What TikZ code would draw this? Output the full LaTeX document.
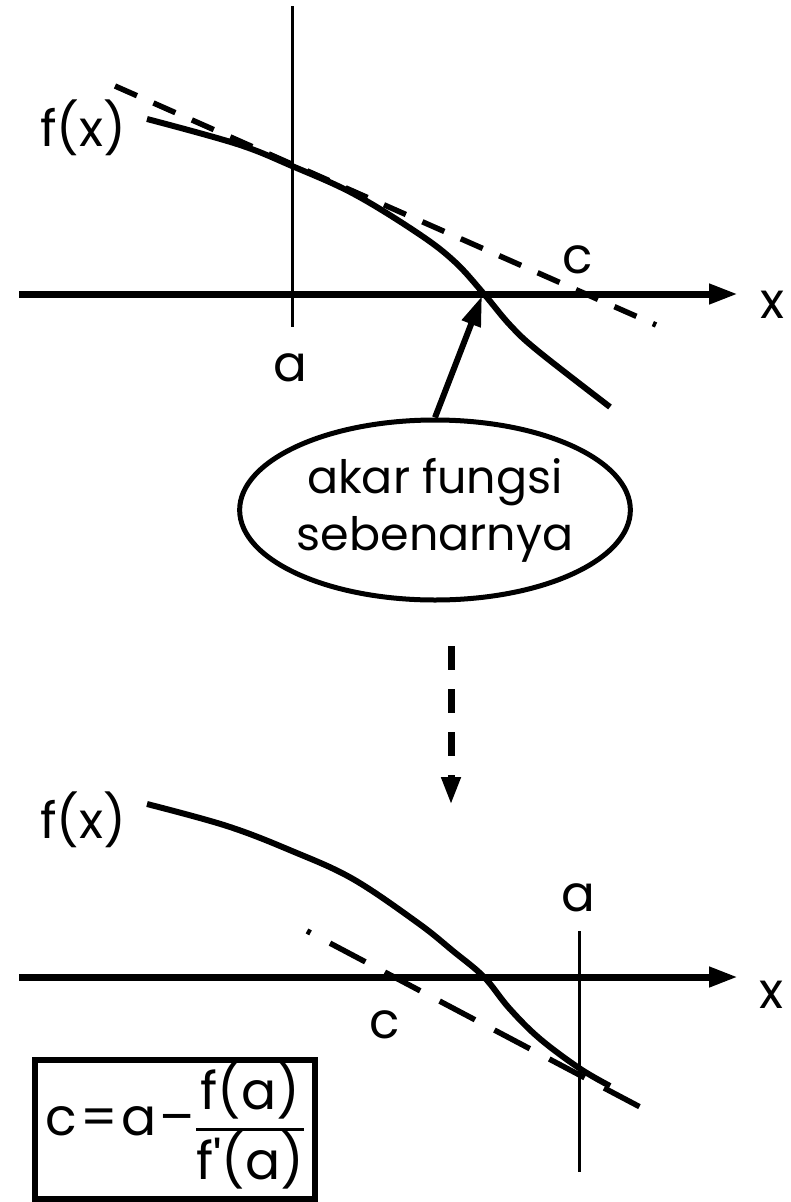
\documentclass[tikz,border=0pt]{standalone}
\usepackage{fontspec}
\setmainfont{Poppins}
\usetikzlibrary{arrows.meta,shapes.geometric}

\begin{document}
\begin{tikzpicture}[
  x=1pt, y=-1pt,
  lbl/.style={font=\fontsize{50}{60}\selectfont, inner sep=0pt},
  axis/.style={line width=7pt, -{Triangle[length=29pt,width=19pt]}},
  vline/.style={line width=3pt},
  curve/.style={line width=6pt},
  tangent/.style={line width=5.5pt, dash pattern=on 24pt off 18pt},
  pointer/.style={line width=6pt, -{Triangle[length=30pt,width=19pt]}},
  nextstep/.style={line width=7pt, dash pattern=on 24pt off 19pt, -{Triangle[length=28pt,width=18pt]}},
  bubble/.style={draw, ellipse, line width=5pt, minimum width=356pt, minimum height=180pt,
    inner sep=0pt, align=center, font=\fontsize{46}{57}\selectfont},
  formula/.style={draw, line width=5.5pt, minimum width=280pt, minimum height=139pt,
    inner sep=0pt, font=\fontsize{52}{62}\selectfont,
    execute at begin node={\setlength{\arrayrulewidth}{2.5pt}}},
]
\useasboundingbox (0,0) rectangle (790,1202);

% top: tangent at a meets the axis at c
\coordinate (ax1l) at (19,294);
\coordinate (ax1r) at (738,294);
\coordinate (a1t) at (292,6);
\coordinate (a1b) at (292,327);
\coordinate (tg1s) at (115,86);
\coordinate (tg1e) at (656,325);
\coordinate (root1) at (482,296);
\draw[vline] (a1t) -- (a1b);
\draw[axis] (ax1l) -- (ax1r);
\draw[curve] plot[smooth, tension=0.6] coordinates {(147,119) (237,144) (292,166) (354,194)
  (419,234) (455,262) (484,294) (510,325) (538,351) (610,407)};
\draw[tangent] (tg1s) -- (tg1e);
\node[lbl] (fx1) at (83,128) {f(x)};
\node[lbl] (a1) at (290,368) {a};
\node[lbl] (c1) at (578,260) {c};
\node[lbl] (x1) at (772,305) {x};

% the true root
\node[bubble] (ell) at (435,510) {akar fungsi\\sebenarnya};
\draw[pointer] (ell.north) -- (root1);

% next step
\coordinate (stepa) at (451,646);
\coordinate (stepb) at (451,805);
\draw[nextstep] (stepa) -- (stepb);

% bottom: c becomes the new a
\coordinate (ax2l) at (19,977);
\coordinate (ax2r) at (738,977);
\coordinate (a2t) at (579,931);
\coordinate (a2b) at (579,1172);
\coordinate (tg2s) at (307,931);
\coordinate (tg2e) at (642,1108);
\draw[vline] (a2t) -- (a2b);
\draw[axis] (ax2l) -- (ax2r);
\draw[curve] plot[smooth, tension=0.6] coordinates {(147,804) (227,826) (292,851) (353,879)
  (418,923) (453,951) (484,977) (509,1008) (539,1038) (579,1068) (610,1086)};
\draw[tangent, dash pattern=on 40pt off 22pt, dash phase=36pt] (tg2s) -- (tg2e);
\node[lbl] (fx2) at (83,820) {f(x)};
\node[lbl] (a2) at (578,898) {a};
\node[lbl] (c2) at (385,1025) {c};
\node[lbl] (x2) at (771,995) {x};

\node[formula] (newc) at (175,1129.5)
  {c\hspace{3pt}=\hspace{3pt}a\hspace{3pt}–\hspace{2pt}\begin{tabular}{@{}c@{}}f(a)\\\hline f\textquotesingle(a)\end{tabular}};
\end{tikzpicture}
\end{document}
